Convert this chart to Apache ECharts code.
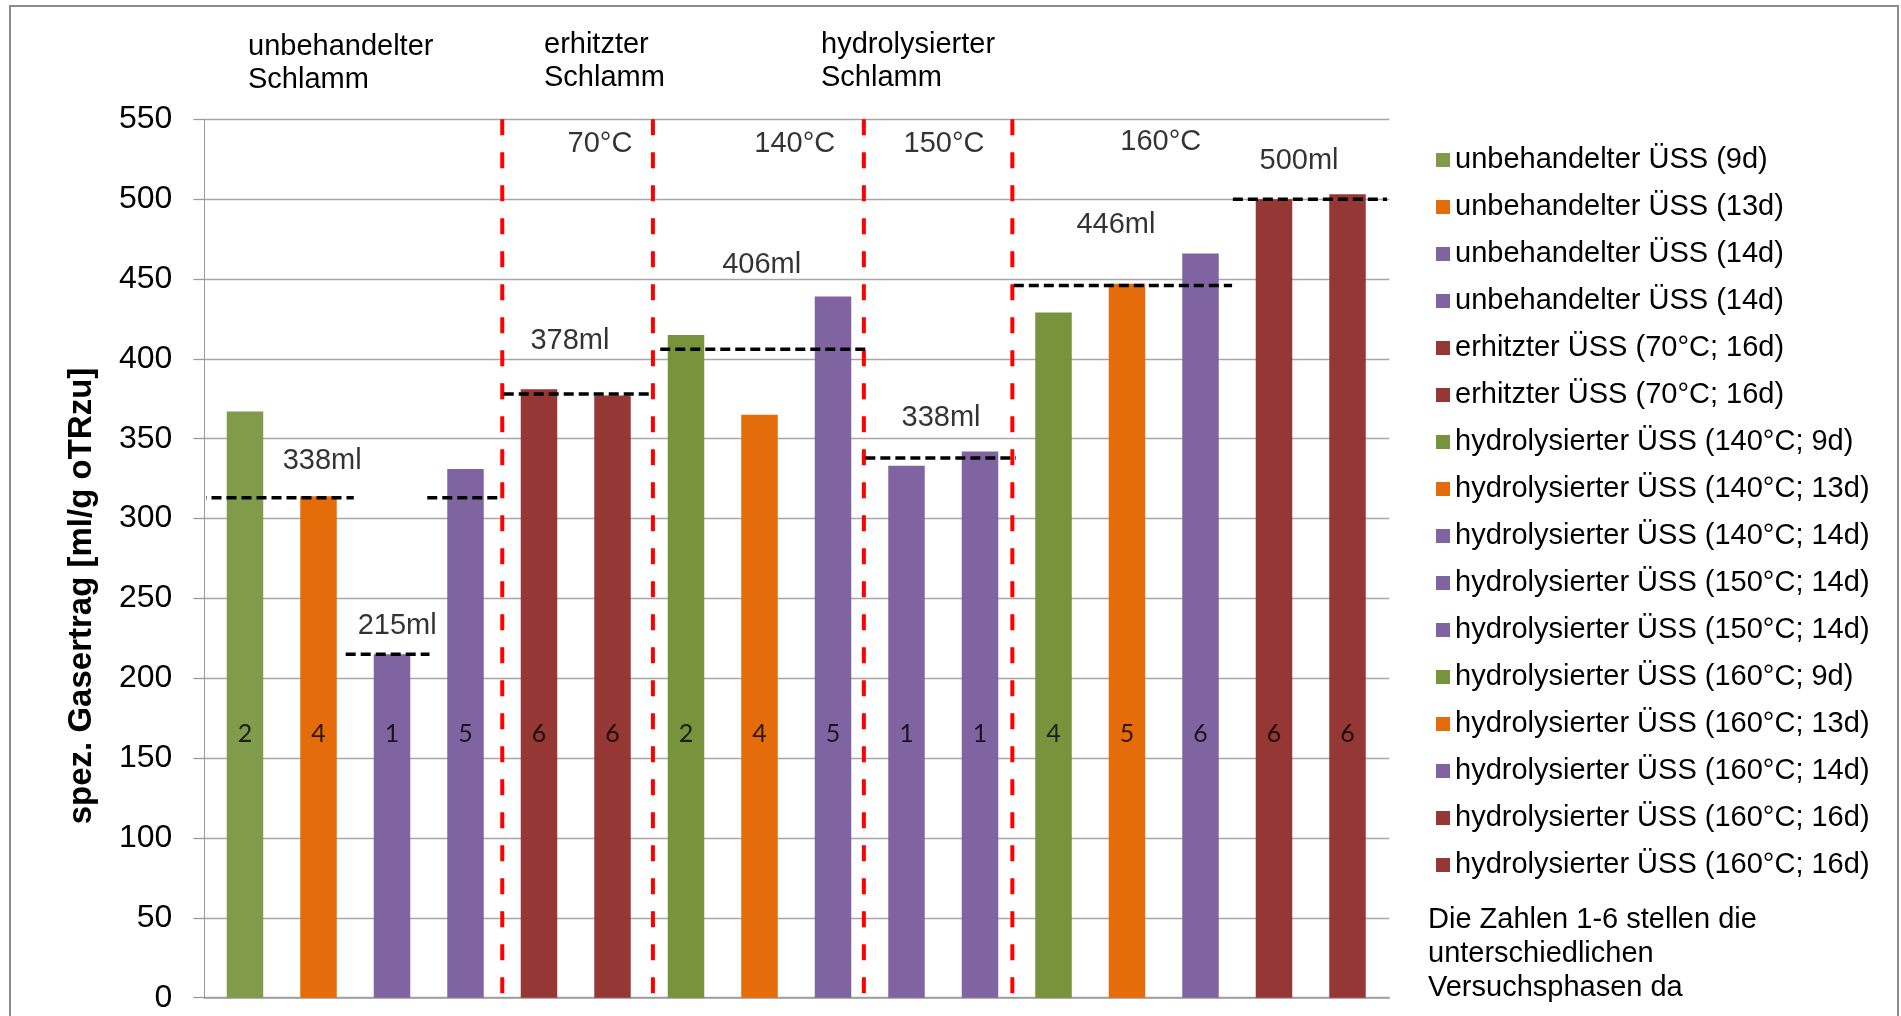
<!DOCTYPE html>
<html>
<head>
<meta charset="utf-8">
<script src="https://cdn.jsdelivr.net/npm/echarts@6/dist/echarts.min.js"></script>
<style>
  html, body { margin: 0; padding: 0; background: #fff; }
  #chart { width: 1901px; height: 1016px; }
</style>
</head>
<body>
<div id="chart"></div>
<script>
// Specific gas yield per digestion run (ml/g oTRzu)
const seriesNames = [
  'unbehandelter ÜSS (9d)',
  'unbehandelter ÜSS (13d)',
  'unbehandelter ÜSS (14d)',
  'unbehandelter ÜSS (14d)',
  'erhitzter ÜSS (70°C; 16d)',
  'erhitzter ÜSS (70°C; 16d)',
  'hydrolysierter ÜSS (140°C; 9d)',
  'hydrolysierter ÜSS (140°C; 13d)',
  'hydrolysierter ÜSS (140°C; 14d)',
  'hydrolysierter ÜSS (150°C; 14d)',
  'hydrolysierter ÜSS (150°C; 14d)',
  'hydrolysierter ÜSS (160°C; 9d)',
  'hydrolysierter ÜSS (160°C; 13d)',
  'hydrolysierter ÜSS (160°C; 14d)',
  'hydrolysierter ÜSS (160°C; 16d)',
  'hydrolysierter ÜSS (160°C; 16d)'
];
const yields = [367, 314, 215, 331, 381, 377, 415, 365, 439, 333, 342, 429, 447, 466, 500, 503];
// test phase (1-6) of each run
const phases = ['2', '4', '1', '5', '6', '6', '2', '4', '5', '1', '1', '4', '5', '6', '6', '6'];
const barColors = [
  '#809B4A', '#E46C0A', '#8064A2', '#8064A2', '#953735', '#953735',
  '#77933C', '#E46C0A', '#8064A2', '#8064A2', '#8064A2',
  '#77933C', '#E46C0A', '#8064A2', '#953735', '#953735'
];
const yMin = 0, yMax = 550, yStep = 50;

// group mean lines: span in run-index units, level in ml/g
const meanSegments = [
  { from: -0.66, to: 1.48, value: 313 },
  { from: 1.37, to: 2.51, value: 215 },
  { from: 2.48, to: 3.46, value: 313 },
  { from: 3.52, to: 5.56, value: 378 },
  { from: 5.65, to: 8.46, value: 406 },
  { from: 8.44, to: 10.49, value: 338 },
  { from: 10.46, to: 13.43, value: 446 },
  { from: 13.44, to: 15.67, value: 500 }
];
const meanTexts = [
  { text: '338ml', x: 1.05, y: 336 },
  { text: '215ml', x: 2.07, y: 233 },
  { text: '378ml', x: 4.42, y: 411 },
  { text: '406ml', x: 7.03, y: 459 },
  { text: '338ml', x: 9.47, y: 363 },
  { text: '446ml', x: 11.85, y: 484 },
  { text: '500ml', x: 14.34, y: 524 }
];
// treatment borders (between runs) and temperature captions
const phaseBorders = [3.5, 5.55, 8.42, 10.44];
const tempTexts = [
  { text: '70°C', x: 4.83, y: 534.5 },
  { text: '140°C', x: 7.48, y: 534.5 },
  { text: '150°C', x: 9.51, y: 534.5 },
  { text: '160°C', x: 12.46, y: 535.5 }
];

const FONT = 'Liberation Sans, Arial, sans-serif';

// legend keeps repeated names apart by a trailing space
const seen = {};
const legendNames = seriesNames.map(n => {
  seen[n] = (seen[n] || 0) + 1;
  return n + ' '.repeat(seen[n] - 1);
});

const runIdx = yields.map((_, i) => String(i + 1));

const series = [];
yields.forEach((v, i) => {
  series.push({
    name: legendNames[i],
    type: 'bar',
    xAxisIndex: 1,
    yAxisIndex: 1,
    stack: 'runs',
    barWidth: 36.5,
    silent: true,
    itemStyle: { color: barColors[i] },
    data: yields.map((val, j) => (j === i ? val : '-'))
  });
});

phaseBorders.forEach(b => {
  series.push({
    type: 'line', xAxisIndex: 2, yAxisIndex: 1, silent: true, clip: false,
    symbol: 'none', z: 5,
    lineStyle: { color: '#ff0000', width: 4, type: [16, 17] },
    data: [[b, yMax], [b, yMin]]
  });
});

meanSegments.forEach(s => {
  series.push({
    type: 'line', xAxisIndex: 2, yAxisIndex: 1, silent: true, clip: false,
    symbol: 'none', z: 6,
    lineStyle: { color: '#000', width: 3.5, type: [10, 5] },
    data: [[s.from, s.value], [s.to, s.value]]
  });
});

// phase numbers inside the bars
series.push({
  type: 'scatter', xAxisIndex: 2, yAxisIndex: 1, silent: true, z: 7,
  symbolSize: 1, itemStyle: { color: 'rgba(0,0,0,0)' },
  label: {
    show: true, position: 'inside', color: '#000',
    fontFamily: 'Lato, sans-serif', fontSize: 25,
    formatter: p => p.data[2]
  },
  data: phases.map((p, i) => [i, 165, p])
});

// mean values and temperature captions
series.push({
  type: 'scatter', xAxisIndex: 2, yAxisIndex: 1, silent: true, z: 7, clip: false,
  symbolSize: 1, itemStyle: { color: 'rgba(0,0,0,0)' },
  label: {
    show: true, position: 'inside', color: '#000',
    fontFamily: FONT, fontSize: 29,
    formatter: p => p.data.name
  },
  data: meanTexts.concat(tempTexts).map(t => ({ name: t.text, value: [t.x, t.y] }))
});

const chart = echarts.init(document.getElementById('chart'), null, { renderer: 'canvas' });
chart.setOption({
  animation: false,
  backgroundColor: '#fff',
  grid: [
    { left: 204.3, top: 119.3, width: 1185, height: 878.4 },
    { left: 208.25, top: 119.3, width: 1176, height: 878.4 }
  ],
  xAxis: [
    {
      type: 'category', gridIndex: 0, data: runIdx,
      axisLine: { show: true, lineStyle: { color: '#9a9a9a', width: 1.5 } },
      axisTick: { show: false }, axisLabel: { show: false }, splitLine: { show: false }
    },
    { type: 'category', gridIndex: 1, data: runIdx, show: false },
    { type: 'value', gridIndex: 1, min: -0.5, max: 15.5, show: false }
  ],
  yAxis: [
    {
      type: 'value', gridIndex: 0, min: yMin, max: yMax, interval: yStep,
      axisLine: { show: true, lineStyle: { color: '#9a9a9a', width: 1 } },
      axisTick: { show: true, length: 11, lineStyle: { color: '#9a9a9a', width: 1.3 } },
      splitLine: { show: true, lineStyle: { color: '#a6a6a6', width: 1.3 } },
      axisLabel: { color: '#000', fontFamily: FONT, fontSize: 32, margin: 32 }
    },
    { type: 'value', gridIndex: 1, min: yMin, max: yMax, interval: yStep, show: false }
  ],
  legend: {
    orient: 'vertical', left: 1436, top: 143.5, padding: 0,
    icon: 'rect', itemWidth: 14, itemHeight: 14, itemGap: 14,
    selectedMode: false,
    textStyle: { color: '#000', fontFamily: FONT, fontSize: 29, lineHeight: 33 },
    data: legendNames
  },
  graphic: [
    {
      type: 'rect', silent: true, z: -1,
      shape: { x: 10, y: 6, width: 1888, height: 1040 },
      style: { fill: 'none', stroke: '#8c8c8c', lineWidth: 2 }
    },
    {
      type: 'text', x: 248, y: 30.5, silent: true,
      style: { text: 'unbehandelter\nSchlamm', font: '29px ' + FONT, lineHeight: 33, fill: '#000', verticalAlign: 'top' }
    },
    {
      type: 'text', x: 544, y: 28.5, silent: true,
      style: { text: 'erhitzter\nSchlamm', font: '29px ' + FONT, lineHeight: 33, fill: '#000', verticalAlign: 'top' }
    },
    {
      type: 'text', x: 821, y: 28.5, silent: true,
      style: { text: 'hydrolysierter\nSchlamm', font: '29px ' + FONT, lineHeight: 33, fill: '#000', verticalAlign: 'top' }
    },
    {
      type: 'text', x: 82, y: 596, rotation: Math.PI / 2, silent: true,
      style: { text: 'spez. Gasertrag [ml/g oTRzu]', font: 'bold 33px ' + FONT, fill: '#000', align: 'center', verticalAlign: 'middle' }
    },
    {
      type: 'text', x: 1428, y: 903, silent: true,
      style: { text: 'Die Zahlen 1-6 stellen die\nunterschiedlichen\nVersuchsphasen da', font: '29px ' + FONT, lineHeight: 34, fill: '#000', verticalAlign: 'top' }
    }
  ],
  series: series
});
</script>
</body>
</html>
